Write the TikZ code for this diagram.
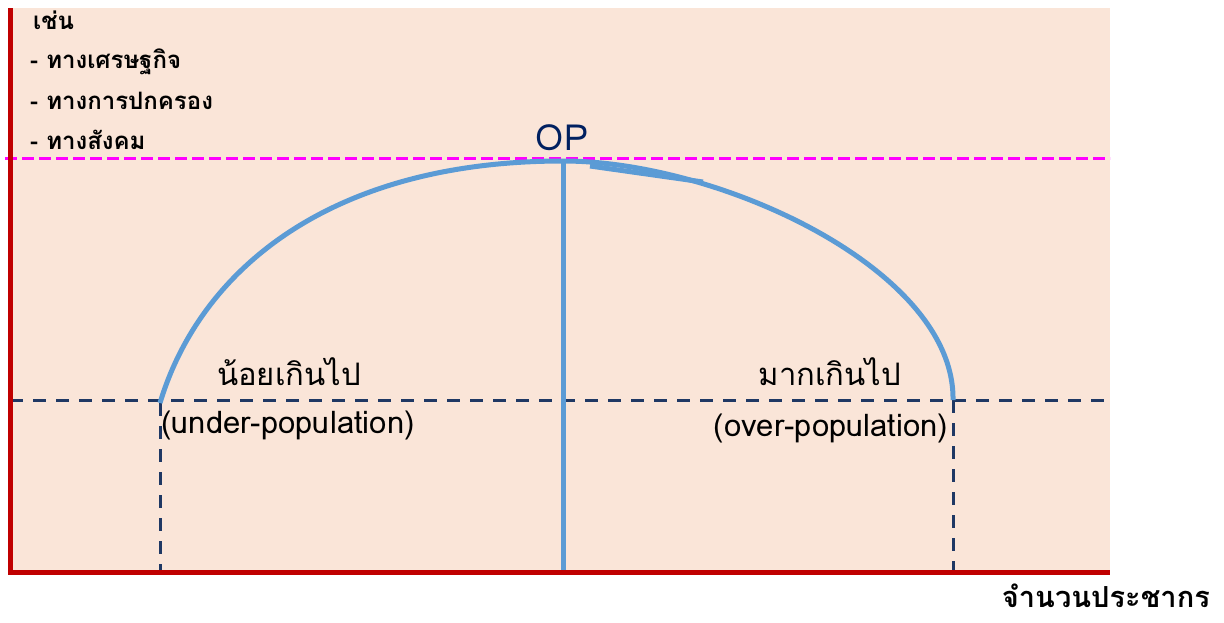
\documentclass[tikz,border=0pt]{standalone}
\usepackage{fontspec}
\usepackage{xcolor}
\usepackage{tikz}
\usetikzlibrary{positioning}
\newfontfamily\thaifont[Script=Thai]{Loma}
\definecolor{bgpeach}{RGB}{250,229,216}
\definecolor{axisred}{RGB}{192,0,0}
\definecolor{curveblue}{RGB}{91,155,213}
\definecolor{navyline}{RGB}{31,56,100}
\definecolor{opnavy}{RGB}{0,32,96}
\definecolor{optline}{RGB}{255,0,255}
\tikzset{
  axis/.style={line width=5pt, color=axisred, line join=miter},
  curve/.style={line width=5pt, color=curveblue},
  optdash/.style={line width=3pt, color=optline, dash pattern=on 12pt off 5pt},
  levdash/.style={line width=3pt, color=navyline, dash pattern=on 13pt off 10pt},
  label/.style={font=\thaifont\fontsize{31}{36}\selectfont, inner sep=0pt},
  listtext/.style={font=\thaifont\bfseries\fontsize{24}{28}\selectfont, inner sep=0pt, anchor=west},
}
\begin{document}
\begin{tikzpicture}[x=1pt, y=-1pt]

  \useasboundingbox (0,0) rectangle (1224,622);

  % ── Background ───────────────────────────────────────────────────────
  \fill[bgpeach] (10,8) rectangle (1110,572);

  % ── Reference points ─────────────────────────────────────────────────
  \coordinate (lowL)  at (160,403);
  \coordinate (lowR)  at (953,400);
  \coordinate (top)   at (563,161);
  \coordinate (baseL) at (160,572);
  \coordinate (baseR) at (953,572);
  \coordinate (baseM) at (563,572);

  % ── Level lines ──────────────────────────────────────────────────────
  \draw[optdash] (5,158) -- (1110,158);
  \draw[levdash] (10,400) -- (1110,400);
  \draw[levdash] (lowL) -- (baseL);
  \draw[levdash] (lowR) -- (baseR);

  % ── Curve ────────────────────────────────────────────────────────────
  \draw[curve] (lowL) .. controls (200,270) and (330,161) .. (top)
               .. controls (720,161) and (955,270) .. (lowR);
  \draw[curve] (top) -- (baseM);
  \draw[curve] (590,166) -- (703,182);

  % ── Axes ─────────────────────────────────────────────────────────────
  \draw[axis] (10,8) -- (10,572) -- (1110,572);

  % ── Labels ───────────────────────────────────────────────────────────
  \node[font=\thaifont\fontsize{36}{40}\selectfont, text=opnavy, inner sep=0pt]
    (op) at (562,138) {OP};

  \node[listtext] (ex)  at (33,20)  {เช่น};
  \node[listtext] (ex1) at (30,62)  {- ทางเศรษฐกิจ};
  \node[listtext] (ex2) at (30,101) {- ทางการปกครอง};
  \node[listtext] (ex3) at (30,140) {- ทางสังคม};

  \node[label] (under)  at (289,372) {น้อยเกินไป};
  \node[label] (undere) at (288,425) {(under-population)};
  \node[label] (over)   at (830,372) {มากเกินไป};
  \node[label] (overe)  at (831,428) {(over-population)};

  \node[label, font=\thaifont\bfseries\fontsize{29}{34}\selectfont, anchor=east]
    (xlab) at (1210,596) {จำนวนประชากร};

\end{tikzpicture}
\end{document}
